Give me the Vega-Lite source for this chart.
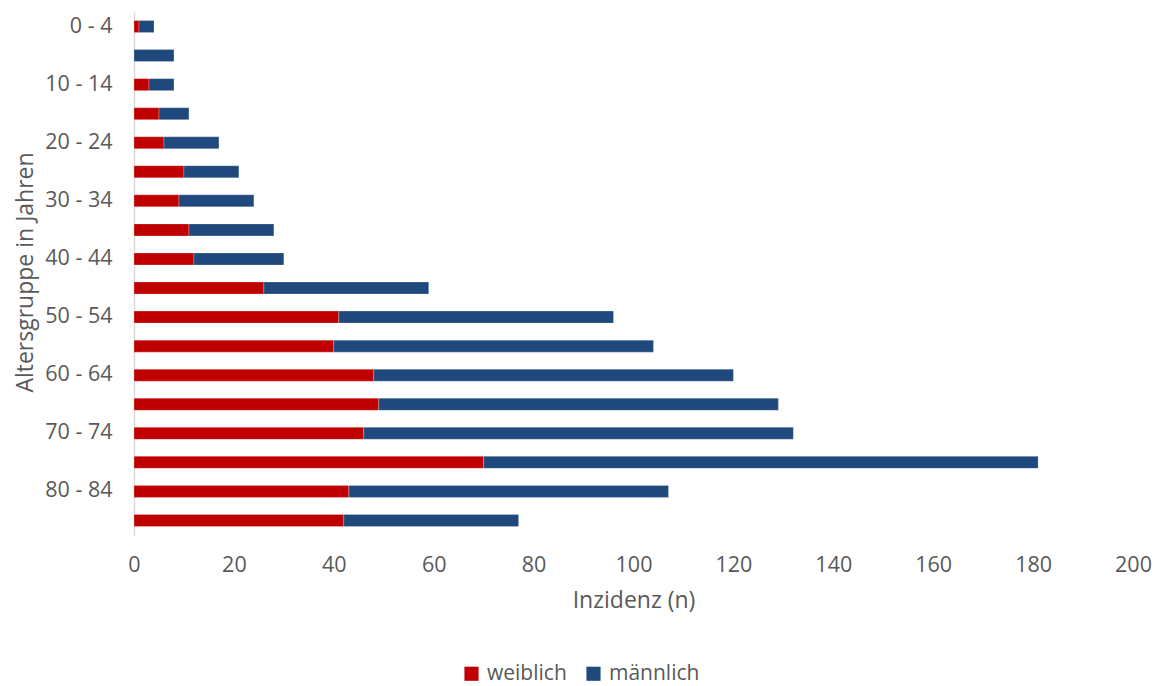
{
  "$schema": "https://vega.github.io/schema/vega-lite/v6.json",
  "width": 999,
  "height": 523,
  "autosize": {"type": "none"},
  "padding": {"left": 134, "top": 12, "right": 25, "bottom": 151},
  "background": "white",
  "config": {
    "view": {"stroke": null},
    "font": "Open Sans",
    "axis": {"labelFont": "Open Sans", "titleFont": "Open Sans", "labelColor": "#595959", "titleColor": "#595959", "titleFontWeight": "normal"}
  },
  "data": {
    "values": [
      {"age": "0 - 4", "sex": "weiblich", "n": 1, "o": 0},
      {"age": "0 - 4", "sex": "männlich", "n": 3, "o": 1},
      {"age": "5 - 9", "sex": "weiblich", "n": 0, "o": 0},
      {"age": "5 - 9", "sex": "männlich", "n": 8, "o": 1},
      {"age": "10 - 14", "sex": "weiblich", "n": 3, "o": 0},
      {"age": "10 - 14", "sex": "männlich", "n": 5, "o": 1},
      {"age": "15 - 19", "sex": "weiblich", "n": 5, "o": 0},
      {"age": "15 - 19", "sex": "männlich", "n": 6, "o": 1},
      {"age": "20 - 24", "sex": "weiblich", "n": 6, "o": 0},
      {"age": "20 - 24", "sex": "männlich", "n": 11, "o": 1},
      {"age": "25 - 29", "sex": "weiblich", "n": 10, "o": 0},
      {"age": "25 - 29", "sex": "männlich", "n": 11, "o": 1},
      {"age": "30 - 34", "sex": "weiblich", "n": 9, "o": 0},
      {"age": "30 - 34", "sex": "männlich", "n": 15, "o": 1},
      {"age": "35 - 39", "sex": "weiblich", "n": 11, "o": 0},
      {"age": "35 - 39", "sex": "männlich", "n": 17, "o": 1},
      {"age": "40 - 44", "sex": "weiblich", "n": 12, "o": 0},
      {"age": "40 - 44", "sex": "männlich", "n": 18, "o": 1},
      {"age": "45 - 49", "sex": "weiblich", "n": 26, "o": 0},
      {"age": "45 - 49", "sex": "männlich", "n": 33, "o": 1},
      {"age": "50 - 54", "sex": "weiblich", "n": 41, "o": 0},
      {"age": "50 - 54", "sex": "männlich", "n": 55, "o": 1},
      {"age": "55 - 59", "sex": "weiblich", "n": 40, "o": 0},
      {"age": "55 - 59", "sex": "männlich", "n": 64, "o": 1},
      {"age": "60 - 64", "sex": "weiblich", "n": 48, "o": 0},
      {"age": "60 - 64", "sex": "männlich", "n": 72, "o": 1},
      {"age": "65 - 69", "sex": "weiblich", "n": 49, "o": 0},
      {"age": "65 - 69", "sex": "männlich", "n": 80, "o": 1},
      {"age": "70 - 74", "sex": "weiblich", "n": 46, "o": 0},
      {"age": "70 - 74", "sex": "männlich", "n": 86, "o": 1},
      {"age": "75 - 79", "sex": "weiblich", "n": 70, "o": 0},
      {"age": "75 - 79", "sex": "männlich", "n": 111, "o": 1},
      {"age": "80 - 84", "sex": "weiblich", "n": 43, "o": 0},
      {"age": "80 - 84", "sex": "männlich", "n": 64, "o": 1},
      {"age": "85+", "sex": "weiblich", "n": 42, "o": 0},
      {"age": "85+", "sex": "männlich", "n": 35, "o": 1}
    ]
  },
  "mark": {"type": "bar", "size": 12, "stroke": "white", "strokeOpacity": 0.4, "strokeWidth": 0.6},
  "encoding": {
    "y": {
      "field": "age",
      "type": "nominal",
      "sort": null,
      "scale": {"paddingInner": 0, "paddingOuter": 0},
      "axis": {
        "title": "Altersgruppe in Jahren",
        "titleFontSize": 23,
        "titleX": -109,
        "titleY": 260,
        "titleAngle": -90,
        "titleAlign": "center",
        "titleBaseline": "middle",
        "values": ["0 - 4", "10 - 14", "20 - 24", "30 - 34", "40 - 44", "50 - 54", "60 - 64", "70 - 74", "80 - 84"],
        "labelFontSize": 21.5,
        "labelPadding": 22,
        "ticks": false,
        "domainColor": "#d9d9d9",
        "domainWidth": 1.5,
        "grid": false
      }
    },
    "x": {
      "field": "n",
      "type": "quantitative",
      "stack": "zero",
      "scale": {"domain": [0, 200], "nice": false},
      "axis": {
        "title": "Inzidenz (n)",
        "titleFontSize": 23,
        "titlePadding": 14,
        "values": [0, 20, 40, 60, 80, 100, 120, 140, 160, 180, 200],
        "labelFontSize": 21.5,
        "labelPadding": 19,
        "ticks": false,
        "domain": false,
        "grid": false,
        "labelFlush": false
      }
    },
    "color": {
      "field": "sex",
      "type": "nominal",
      "scale": {"domain": ["weiblich", "männlich"], "range": ["#C00000", "#1F497D"]},
      "legend": {
        "title": null,
        "orient": "none",
        "direction": "horizontal",
        "legendX": 327,
        "legendY": 651,
        "symbolType": "square",
        "symbolSize": 200,
        "symbolStrokeWidth": 0,
        "labelFontSize": 21,
        "labelColor": "#595959",
        "labelFont": "Open Sans",
        "columnPadding": 16,
        "labelOffset": 5
      }
    },
    "order": {"field": "o", "type": "quantitative"}
  }
}
